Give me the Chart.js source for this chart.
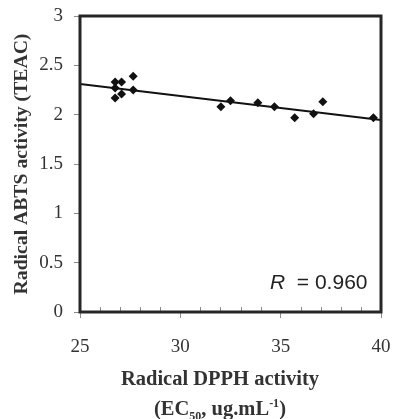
<!DOCTYPE html>
<html>
<head>
<meta charset="utf-8">
<script src="https://cdn.jsdelivr.net/npm/chart.js@4.4.0/dist/chart.umd.min.js"></script>
<style>
  html, body { margin: 0; padding: 0; background: #fff; }
  #wrap { position: relative; width: 393px; height: 419px; }
  #c { position: absolute; left: 0; top: 0; }
  .xt { position: absolute; left: 70px; width: 300px; text-align: center; line-height: 1;
        font-family: "Liberation Serif", serif; font-weight: bold; font-size: 20.5px; color: #333; white-space: nowrap; }
  .rlab { position: absolute; left: 270px; top: 270px; font-family: "Liberation Sans", sans-serif;
          font-size: 21px; color: #222; white-space: pre; }
  sub, sup { font-size: 12px; line-height: 0; }
</style>
</head>
<body>
<div id="wrap">
  <canvas id="c" width="393" height="419"></canvas>
  <div class="xt" style="top:368px">Radical DPPH activity</div>
  <div class="xt" style="top:398px">(EC<sub>50</sub>, ug.mL<sup>-1</sup>)</div>
  <div class="rlab"><i>R</i>  = 0.960</div>
</div>
<script>
// DPPH EC50 vs ABTS TEAC
let dpph = [26.75, 27.07, 27.65, 26.75, 27.07, 26.75, 27.65, 32.02, 32.5, 33.86, 34.69, 35.7, 36.64, 37.1, 39.62];
let abts = [2.33, 2.33, 2.39, 2.27, 2.21, 2.17, 2.25, 2.08, 2.14, 2.12, 2.08, 1.97, 2.01, 2.13, 1.97];

// trend line end points
let fitX = [25, 40];
let fitY = [2.31, 1.945];

let xTicks = [25, 30, 35, 40];
let yTicks = [0, 0.5, 1, 1.5, 2, 2.5, 3];

const points = dpph.map((x, i) => ({ x: x, y: abts[i] }));
const fitLine = fitX.map((x, i) => ({ x: x, y: fitY[i] }));

// no extra room for overflowing end labels
function noPad(s) {
    s.paddingLeft = 0;
    s.paddingRight = 0;
    s.paddingTop = 0;
    s.paddingBottom = 0;
}

// frame + minor ticks on the x axis (inside)
const frame = {
    id: 'frame',
    afterDraw(chart) {
        const ctx = chart.ctx;
        const a = chart.chartArea;
        const xs = chart.scales.x;
        ctx.save();
        ctx.strokeStyle = '#8a8a8a';
        ctx.lineWidth = 1;
        for (let v = 26; v < 40; v++) {
            if (v % 5 === 0) continue;
            const px = Math.round(xs.getPixelForValue(v)) + 0.5;
            ctx.beginPath();
            ctx.moveTo(px, a.bottom);
            ctx.lineTo(px, a.bottom - 5);
            ctx.stroke();
        }
        ctx.strokeStyle = '#262626';
        ctx.lineWidth = 3;
        ctx.strokeRect(a.left, a.top, a.right - a.left, a.bottom - a.top);
        ctx.restore();
    }
};

const ctx = document.getElementById('c').getContext('2d');
const chart = new Chart(ctx, {
    type: 'scatter',
    data: {
        datasets: [{
            label: 'samples',
            data: points,
            backgroundColor: '#111',
            borderColor: '#111',
            pointStyle: 'rectRot',
            pointRadius: 4.5,
            pointBorderWidth: 0
        }, {
            label: 'fit',
            data: fitLine,
            showLine: true,
            borderColor: '#111',
            borderWidth: 2,
            pointRadius: 0
        }]
    },
    options: {
        responsive: false,
        animation: false,
        layout: { padding: { top: 16, right: 12, left: 0, bottom: 0 } },
        plugins: { legend: { display: false }, tooltip: { enabled: false } },
        scales: {
            x: {
                type: 'linear',
                min: 25,
                max: 40,
                afterBuildTicks: (s) => { s.ticks = xTicks.map(v => ({ value: v })); },
                afterFit: (s) => { s.height = 107; noPad(s); },
                grid: { drawOnChartArea: false, tickLength: 6, tickColor: '#8a8a8a', tickWidth: 1 },
                border: { display: false },
                ticks: {
                    color: '#333',
                    padding: 18,
                    maxRotation: 0,
                    font: { family: 'Liberation Serif', size: 19 }
                }
            },
            y: {
                min: 0,
                max: 3,
                afterBuildTicks: (s) => { s.ticks = yTicks.map(v => ({ value: v })); },
                ticks: {
                    color: '#333',
                    padding: 11,
                    callback: (v) => String(v),
                    font: { family: 'Liberation Serif', size: 19 }
                },
                afterFit: (s) => { s.width = 80; noPad(s); },
                grid: { drawOnChartArea: false, tickLength: 6, tickColor: '#8a8a8a', tickWidth: 1 },
                border: { display: false },
                title: {
                    display: true,
                    text: 'Radical ABTS activity (TEAC)',
                    color: '#333',
                    padding: { top: 10, bottom: 0 },
                    font: { family: 'Liberation Serif', size: 19.7, weight: 'bold' }
                }
            }
        }
    },
    plugins: [frame]
});
</script>
</body>
</html>
